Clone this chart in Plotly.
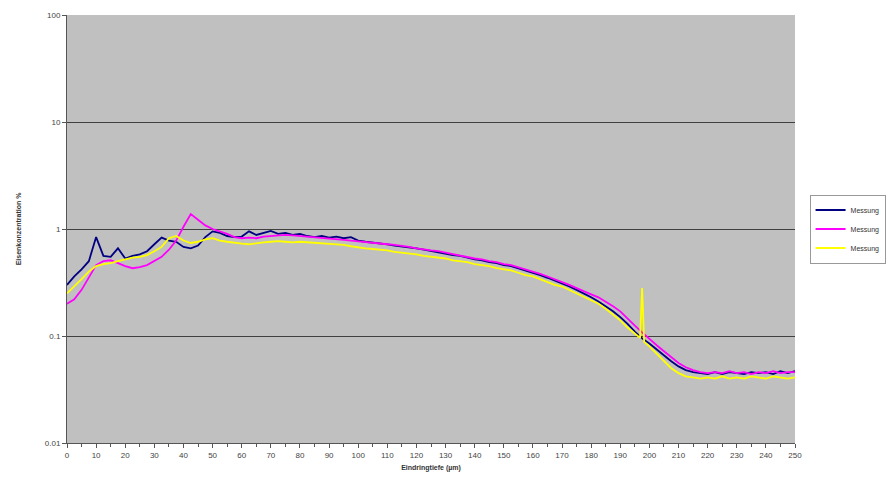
import plotly.graph_objects as go

# Eindringtiefe in µm (Raster 2.5 µm)
depth = [i * 2.5 for i in range(101)]

messung_blau = [
    0.30, 0.36, 0.42, 0.50, 0.84, 0.56, 0.55, 0.66, 0.53, 0.56,
    0.58, 0.62, 0.72, 0.83, 0.78, 0.76, 0.68, 0.66, 0.70, 0.84,
    0.95, 0.92, 0.86, 0.84, 0.85, 0.95, 0.88, 0.92, 0.96, 0.90,
    0.92, 0.88, 0.90, 0.86, 0.84, 0.86, 0.83, 0.85, 0.82, 0.84,
    0.78, 0.76, 0.75, 0.73, 0.72, 0.70, 0.69, 0.67, 0.66, 0.64,
    0.62, 0.61, 0.59, 0.57, 0.56, 0.54, 0.52, 0.51, 0.49, 0.48,
    0.46, 0.45, 0.43, 0.41, 0.39, 0.37, 0.35, 0.33, 0.31, 0.29,
    0.27, 0.25, 0.23, 0.21, 0.19, 0.17, 0.15, 0.13, 0.11, 0.095,
    0.085, 0.075, 0.065, 0.058, 0.052, 0.048, 0.046, 0.045, 0.044, 0.046,
    0.044, 0.046, 0.045, 0.044, 0.046, 0.045, 0.046, 0.044, 0.047, 0.045,
    0.047,
]

messung_magenta = [
    0.20, 0.22, 0.27, 0.35, 0.46, 0.50, 0.51, 0.48, 0.45, 0.43,
    0.44, 0.46, 0.50, 0.55, 0.64, 0.78, 1.05, 1.38, 1.22, 1.08,
    1.00, 0.95, 0.90, 0.84, 0.82, 0.83, 0.82, 0.85, 0.86, 0.87,
    0.88, 0.87, 0.86, 0.84, 0.83, 0.82, 0.81, 0.80, 0.79, 0.78,
    0.77, 0.76, 0.75, 0.74, 0.72, 0.71, 0.70, 0.68, 0.66, 0.65,
    0.63, 0.62, 0.60, 0.58, 0.57, 0.55, 0.53, 0.52, 0.50, 0.49,
    0.47, 0.46, 0.44, 0.42, 0.40, 0.38, 0.36, 0.34, 0.32, 0.30,
    0.28, 0.26, 0.245, 0.23, 0.21, 0.19, 0.17, 0.145, 0.125, 0.108,
    0.095, 0.082, 0.072, 0.063, 0.056, 0.051, 0.048, 0.046, 0.045, 0.046,
    0.045, 0.047, 0.045, 0.046, 0.044, 0.046, 0.045, 0.047, 0.045, 0.046,
    0.046,
]

# gelbe Messung: feineres Raster um den Ausreißer bei 197.5 µm
depth_gelb = ([i * 2.5 for i in range(79)]
              + [196.8, 197.5, 198.2]
              + [i * 2.5 for i in range(80, 101)])

messung_gelb = [
    0.25, 0.29, 0.34, 0.40, 0.45, 0.47, 0.48, 0.50, 0.52, 0.54,
    0.55, 0.57, 0.62, 0.68, 0.82, 0.86, 0.78, 0.74, 0.76, 0.80,
    0.82, 0.78, 0.76, 0.74, 0.73, 0.72, 0.74, 0.75, 0.76, 0.77,
    0.76, 0.75, 0.76, 0.75, 0.74, 0.74, 0.73, 0.72, 0.71, 0.69,
    0.67, 0.66, 0.65, 0.64, 0.63, 0.61, 0.60, 0.59, 0.58, 0.56,
    0.55, 0.54, 0.53, 0.51, 0.50, 0.49, 0.47, 0.46, 0.45, 0.43,
    0.42, 0.41, 0.39, 0.37, 0.36, 0.34, 0.32, 0.30, 0.29, 0.27,
    0.25, 0.23, 0.215, 0.20, 0.18, 0.16, 0.14, 0.12, 0.105,
    0.096, 0.28, 0.088,
    0.080, 0.068, 0.058, 0.050, 0.045, 0.042, 0.041, 0.040, 0.041, 0.040,
    0.042, 0.040, 0.041, 0.040, 0.042, 0.041, 0.040, 0.042, 0.041, 0.040,
    0.041,
]

series_names = ["Messung", "Messung", "Messung"]
series_colors = ["#000080", "#FF00FF", "#FFFF00"]

x_ticks = list(range(0, 251, 10))
y_ticks = [0.01, 0.1, 1, 10, 100]
y_ticktext = ["0.01", "0.1", "1", "10", "100"]

fig = go.Figure()
for name, xs, vals, col in zip(series_names,
                               [depth, depth, depth_gelb],
                               [messung_blau, messung_magenta, messung_gelb],
                               series_colors):
    fig.add_trace(go.Scatter(x=xs, y=vals, name=name, mode="lines",
                             line=dict(color=col, width=1.8)))

fig.update_layout(
    width=888, height=490,
    margin=dict(l=67, r=93, t=15, b=47, autoexpand=False),
    paper_bgcolor="white",
    plot_bgcolor="#C0C0C0",
    font=dict(family="Arial, Liberation Sans, sans-serif", size=8, color="#444"),
    legend=dict(x=1.02, y=0.5, xanchor="left", yanchor="middle",
                bgcolor="white", bordercolor="#999", borderwidth=1,
                font=dict(size=7, color="#333"), itemwidth=30,
                tracegroupgap=0),
)

fig.update_xaxes(
    range=[0, 250], tickvals=x_ticks, ticks="outside", ticklen=4,
    tickcolor="#555", showgrid=False, showline=True, linecolor="#555",
    linewidth=1, zeroline=False,
    minor=dict(dtick=5, ticks="outside", ticklen=3, tickcolor="#555"),
    title=dict(text="<b>Eindringtiefe (µm)</b>", font=dict(size=7, color="#333"),
               standoff=6),
)
fig.update_yaxes(
    type="log", range=[-2, 2], tickvals=y_ticks, ticktext=y_ticktext,
    ticks="outside", ticklen=4, tickcolor="#555",
    showgrid=True, gridcolor="#404040", gridwidth=1,
    showline=True, linecolor="#555", linewidth=1, mirror=False,
    title=dict(text="<b>Eisenkonzentration %</b>", font=dict(size=7, color="#333"),
               standoff=22),
)

fig.write_html("out.html")
